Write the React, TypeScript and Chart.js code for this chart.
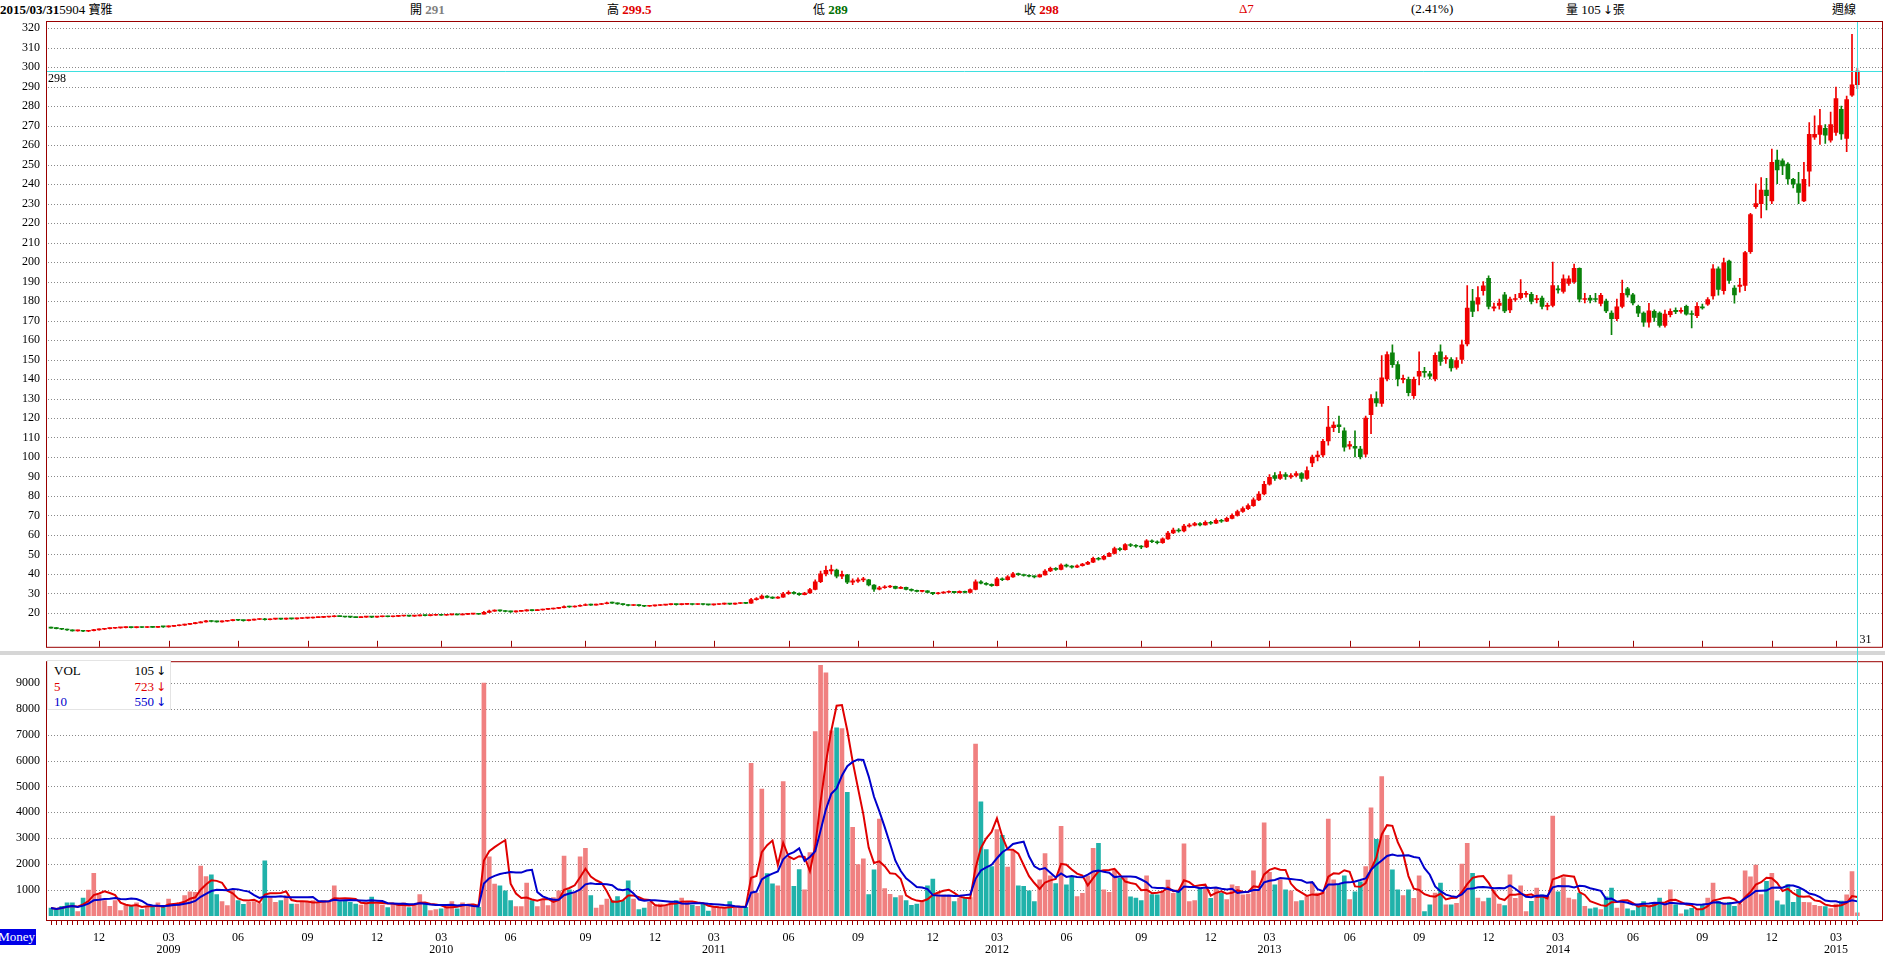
import React, { useEffect, useRef } from 'react';
import { Chart, registerables } from 'chart.js';

Chart.register(...registerables);

// ---------------- data (weekly, 2008/09/29 .. 2015/03/31) ----------------
const OPEN = [
  12.5, 12.2, 11.9, 11.6, 11.2, 10.8, 11.0, 10.6, 10.9, 11.3,
  11.6, 11.9, 12.1, 12.3, 12.4, 12.6, 12.4, 12.7, 12.5, 12.8,
  12.6, 12.9, 12.8, 13.1, 13.4, 13.7, 14.1, 14.5, 14.9, 15.4,
  15.9, 15.6, 15.4, 15.7, 16.0, 16.4, 16.2, 16.0, 16.3, 16.6,
  16.9, 16.5, 16.8, 17.0, 16.8, 17.1, 16.9, 17.1, 17.3, 17.4,
  17.6, 17.7, 17.9, 18.0, 18.3, 18.1, 17.9, 17.8, 17.6, 17.8,
  18.0, 17.8, 18.0, 18.2, 18.0, 18.2, 18.4, 18.5, 18.3, 18.5,
  18.8, 18.6, 18.8, 19.0, 18.8, 19.0, 19.2, 19.0, 19.2, 19.4,
  19.5, 19.4, 20.3, 20.9, 21.3, 21.0, 20.7, 20.5, 20.8, 21.0,
  21.4, 21.2, 21.5, 21.8, 22.0, 22.3, 22.7, 23.3, 23.0, 23.4,
  23.8, 24.3, 24.0, 24.3, 24.7, 25.2, 25.0, 24.6, 24.2, 23.8,
  24.0, 23.7, 23.4, 23.6, 23.8, 24.0, 24.2, 24.4, 24.2, 24.4,
  24.6, 24.3, 24.5, 24.3, 24.1, 24.3, 24.5, 24.8, 24.5, 24.8,
  25.1, 25.0, 26.8, 27.4, 28.6, 28.0, 27.6, 28.1, 29.8, 30.6,
  30.0, 29.4, 30.2, 32.0, 36.0, 40.0, 41.5, 42.0, 38.8, 39.5,
  35.8, 36.3, 36.9, 37.0, 34.3, 32.2, 32.9, 33.3, 33.6, 32.6,
  33.1, 32.1, 31.5, 31.0, 31.3, 30.5, 29.8, 30.2, 30.6, 31.0,
  30.4, 31.0, 30.5, 32.0, 36.0, 35.2, 34.6, 34.0, 37.5, 37.0,
  38.5, 40.0, 39.6, 39.2, 38.8, 38.5, 39.5, 41.5, 42.8, 42.3,
  44.5, 44.0, 43.5, 44.2, 45.0, 46.0, 48.0, 47.5, 49.0, 50.5,
  53.0, 52.5, 55.0, 54.6, 54.2, 53.8, 57.0, 56.5, 56.0, 58.0,
  61.0, 62.5, 62.0, 64.5, 65.0, 65.8, 65.2, 66.5, 66.0, 67.5,
  67.0, 68.5, 70.0, 72.0, 73.5, 75.0, 78.0, 81.0, 86.0, 90.5,
  89.0, 91.0, 89.8, 90.5, 91.5, 89.0, 97, 100, 101, 108.2,
  115, 116.5, 113.4, 105.5, 105.5, 104, 101.4, 121.7, 130, 127.5,
  140, 153.4, 147.4, 139.8, 139.8, 131.4, 141.5, 144, 142.6, 140,
  154, 150.3, 150, 146, 150, 158, 180, 178.4, 185.3, 191.7,
  176.4, 177.8, 183.2, 175.5, 180.8, 181.8, 183.4, 183.5, 180.7, 181.5,
  177.3, 177.7, 186.3, 185, 189, 190, 196.8, 180.8, 181.5, 181.3,
  178.8, 180, 173.8, 171, 177.2, 186.3, 183.2, 177.3, 173.8, 169.2,
  174.7, 173.8, 167.5, 173, 175.2, 174.7, 177.3, 173.6, 172.5, 177,
  178.4, 182.6, 196.6, 185.3, 200.5, 186.6, 187.5, 188, 205.3, 228.4,
  230, 237, 231.4, 252.4, 252, 250.3, 242.5, 240.1, 231.4, 246.7,
  264.1, 265.5, 268.6, 262.6, 266.5, 278.4, 263.4, 285.6, 291,
];

const HIGH = [
  12.7, 12.4, 12.0, 11.7, 11.3, 11.2, 11.1, 11.1, 11.5, 11.8,
  12.0, 12.3, 12.5, 12.6, 12.8, 12.7, 12.9, 12.8, 13.0, 12.9,
  13.1, 13.0, 13.3, 13.6, 13.9, 14.3, 14.7, 15.1, 15.6, 16.2,
  16.1, 15.8, 15.9, 16.2, 16.6, 16.5, 16.3, 16.5, 16.8, 17.1,
  17.2, 17.0, 17.2, 17.1, 17.3, 17.2, 17.3, 17.5, 17.6, 17.8,
  17.9, 18.1, 18.2, 18.6, 18.4, 18.2, 18.0, 17.9, 18.0, 18.2,
  18.1, 18.2, 18.4, 18.3, 18.4, 18.6, 18.7, 18.6, 18.7, 19.0,
  18.9, 19.0, 19.2, 19.1, 19.2, 19.4, 19.3, 19.4, 19.6, 19.7,
  19.6, 20.8, 21.4, 21.6, 21.5, 21.2, 20.9, 21.0, 21.2, 21.7,
  21.6, 21.7, 22.0, 22.2, 22.5, 22.9, 23.6, 23.5, 23.6, 24.1,
  24.6, 24.5, 24.5, 24.9, 25.5, 25.6, 25.1, 24.7, 24.3, 24.2,
  24.1, 23.8, 23.8, 24.0, 24.2, 24.4, 24.6, 24.5, 24.6, 24.8,
  24.7, 24.7, 24.6, 24.4, 24.5, 24.7, 25.0, 24.9, 25.0, 25.3,
  25.2, 27.5, 27.9, 29.3, 28.9, 28.2, 28.4, 30.5, 31.3, 30.9,
  30.3, 30.6, 32.6, 37.0, 41.5, 44.0, 44.5, 42.5, 41.5, 39.8,
  37.5, 38.0, 38.2, 37.2, 34.5, 33.6, 34.0, 34.2, 33.8, 33.5,
  33.2, 32.3, 31.7, 31.6, 31.4, 30.6, 30.5, 30.9, 31.3, 31.1,
  31.3, 31.2, 32.4, 37.0, 36.6, 35.5, 34.9, 38.2, 38.0, 39.2,
  40.8, 40.4, 39.9, 39.5, 39.0, 39.9, 42.2, 43.5, 43.2, 45.2,
  45.0, 44.3, 44.6, 45.4, 46.5, 48.6, 48.5, 49.5, 51.0, 53.8,
  53.5, 55.6, 55.5, 55.0, 54.6, 57.6, 57.5, 57.0, 58.5, 61.8,
  63.5, 63.2, 65.5, 65.8, 66.5, 66.3, 67.2, 67.0, 68.2, 68.0,
  69.2, 70.8, 72.8, 74.4, 76.0, 79.0, 82.2, 87.5, 91.0, 92.0,
  92.5, 92.0, 91.5, 92.5, 92.0, 95.0, 101, 103, 109, 126,
  118, 121, 115, 108, 113.4, 105.5, 121, 132, 133.4, 152,
  154, 157.6, 149, 142, 141, 141, 154, 146, 144, 153.4,
  157.6, 152, 151, 151, 160, 188, 186, 187.4, 190, 193,
  179, 181, 184.5, 182, 183.5, 191, 185, 184.5, 183, 182.5,
  179, 200, 188, 193.5, 193, 199, 197, 184, 183, 184,
  184, 181, 175, 181, 190.8, 187, 184, 178, 174.5, 178.8,
  175.5, 174.5, 175.4, 176, 176.5, 176.5, 178, 175, 179.2, 178.4,
  181.8, 198.7, 197.5, 202, 201, 188, 191.6, 205.5, 225, 240.2,
  243.3, 243, 258, 257.5, 253, 251, 243, 246, 251.2, 271.6,
  275, 278.4, 270.6, 277, 289.8, 280, 285.2, 316.8, 299.5,
];

const LOW = [
  12.1, 11.8, 11.4, 11.0, 10.6, 10.6, 10.4, 10.4, 10.8, 11.1,
  11.4, 11.8, 12.0, 12.1, 12.3, 12.3, 12.3, 12.4, 12.4, 12.5,
  12.5, 12.6, 12.7, 13.0, 13.3, 13.6, 14.0, 14.4, 14.8, 15.3,
  15.4, 15.2, 15.3, 15.6, 15.9, 16.0, 15.8, 15.9, 16.2, 16.5,
  16.3, 16.4, 16.7, 16.6, 16.7, 16.8, 16.8, 17.0, 17.2, 17.3,
  17.5, 17.6, 17.8, 17.9, 18.0, 17.8, 17.6, 17.5, 17.5, 17.7,
  17.6, 17.7, 17.9, 17.9, 17.9, 18.1, 18.3, 18.2, 18.2, 18.4,
  18.5, 18.5, 18.7, 18.7, 18.7, 18.9, 18.9, 18.9, 19.1, 19.3,
  19.2, 19.3, 20.1, 20.7, 20.8, 20.5, 20.3, 20.4, 20.7, 20.9,
  21.0, 21.1, 21.4, 21.7, 21.9, 22.2, 22.6, 22.8, 22.9, 23.3,
  23.7, 23.8, 23.9, 24.2, 24.6, 24.8, 24.4, 24.0, 23.6, 23.7,
  23.5, 23.2, 23.3, 23.5, 23.7, 23.9, 24.1, 24.0, 24.1, 24.3,
  24.1, 24.2, 24.1, 23.9, 24.0, 24.2, 24.4, 24.3, 24.4, 24.7,
  24.7, 24.9, 26.5, 27.2, 27.7, 27.3, 27.4, 27.9, 29.5, 29.6,
  29.0, 29.2, 30.0, 31.8, 35.5, 39.0, 40.0, 38.0, 37.5, 35.0,
  34.5, 35.6, 36.0, 33.8, 31.0, 31.8, 32.5, 33.0, 32.3, 32.4,
  31.8, 31.2, 30.7, 30.8, 30.2, 29.3, 29.6, 30.0, 30.4, 30.1,
  30.2, 30.2, 30.3, 31.8, 34.8, 34.2, 33.6, 33.8, 36.5, 36.8,
  38.2, 39.2, 38.8, 38.4, 38.0, 38.3, 39.3, 41.2, 41.8, 42.0,
  43.5, 43.0, 43.2, 44.0, 44.8, 45.8, 47.0, 47.2, 48.8, 50.2,
  51.8, 52.2, 54.0, 53.6, 53.0, 53.5, 56.0, 55.4, 55.7, 57.7,
  60.6, 61.4, 61.6, 64.0, 64.6, 64.6, 65.0, 65.4, 65.8, 66.4,
  66.8, 68.2, 69.6, 71.6, 73.0, 74.6, 77.6, 80.5, 85.5, 88.0,
  88.5, 88.5, 89.0, 89.8, 87.5, 88.5, 95, 98, 100, 106,
  113, 112.5, 103, 104, 100, 99, 100, 112, 126, 126,
  139, 146, 136.4, 138, 131.3, 130, 137, 141, 140, 139,
  147, 148, 144, 145, 148, 157, 172, 175, 183, 176,
  175, 175.8, 174, 174, 179.8, 181, 182, 178.5, 179, 176,
  175.5, 177, 184, 184, 188, 189, 179.5, 179, 179, 179.5,
  177.5, 174, 162.8, 170, 176.5, 182, 178, 172, 167, 166.6,
  169.6, 166.6, 166.6, 171.8, 173.5, 173.8, 172.8, 166.2, 171.5, 175.8,
  177.7, 181, 183, 183.5, 189, 178.9, 184.5, 185.3, 204.5, 227.5,
  222.6, 226.8, 230, 240.2, 244.8, 240, 238, 230, 231, 239,
  263, 260.4, 260.9, 261.5, 265, 263, 256.6, 285, 289,
];

const CLOSE = [
  12.2, 11.9, 11.6, 11.2, 10.8, 11.0, 10.6, 10.9, 11.3, 11.6,
  11.9, 12.1, 12.3, 12.4, 12.6, 12.4, 12.7, 12.5, 12.8, 12.6,
  12.9, 12.8, 13.1, 13.4, 13.7, 14.1, 14.5, 14.9, 15.4, 15.9,
  15.6, 15.4, 15.7, 16.0, 16.4, 16.2, 16.0, 16.3, 16.6, 16.9,
  16.5, 16.8, 17.0, 16.8, 17.1, 16.9, 17.1, 17.3, 17.4, 17.6,
  17.7, 17.9, 18.0, 18.3, 18.1, 17.9, 17.8, 17.6, 17.8, 18.0,
  17.8, 18.0, 18.2, 18.0, 18.2, 18.4, 18.5, 18.3, 18.5, 18.8,
  18.6, 18.8, 19.0, 18.8, 19.0, 19.2, 19.0, 19.2, 19.4, 19.5,
  19.3, 20.3, 20.9, 21.3, 21.0, 20.7, 20.5, 20.8, 21.0, 21.4,
  21.2, 21.5, 21.8, 22.0, 22.3, 22.7, 23.3, 23.0, 23.4, 23.8,
  24.3, 24.0, 24.3, 24.7, 25.2, 25.0, 24.6, 24.2, 23.8, 24.0,
  23.7, 23.4, 23.6, 23.8, 24.0, 24.2, 24.4, 24.2, 24.4, 24.6,
  24.3, 24.5, 24.3, 24.1, 24.3, 24.5, 24.8, 24.5, 24.8, 25.1,
  24.9, 26.8, 27.4, 28.6, 28.0, 27.6, 28.1, 29.8, 30.6, 30.0,
  29.4, 30.2, 32.0, 36.0, 40.0, 41.8, 42.2, 38.8, 39.8, 35.8,
  36.4, 36.9, 37.3, 34.3, 32.2, 32.9, 33.3, 33.6, 32.6, 33.1,
  32.1, 31.5, 31.0, 31.3, 30.5, 29.8, 30.2, 30.6, 31.0, 30.4,
  31.0, 30.5, 32.0, 36.0, 35.2, 34.6, 34.0, 37.5, 37.0, 38.5,
  40.0, 39.6, 39.2, 38.8, 38.5, 39.5, 41.5, 42.8, 42.3, 44.5,
  44.0, 43.5, 44.2, 45.0, 46.0, 48.0, 47.5, 49.0, 50.5, 53.0,
  52.5, 55.0, 54.6, 54.2, 53.8, 57.0, 56.5, 56.0, 58.0, 61.0,
  62.5, 62.0, 64.5, 65.0, 65.8, 65.2, 66.5, 66.0, 67.5, 67.0,
  68.5, 70.0, 72.0, 73.5, 75.0, 78.0, 81.0, 86.0, 89.5, 89.0,
  91.0, 90.0, 90.5, 91.5, 89.0, 93.0, 100, 101, 108, 115.4,
  116.4, 115.5, 105, 106.3, 104.5, 100.2, 120, 130, 127.7, 140.6,
  152.5, 147.4, 140, 140.4, 133, 139.8, 144, 143.4, 141.5, 152.2,
  149, 151, 145.7, 149.5, 157.6, 176.4, 174.7, 181.8, 187.8, 177.2,
  177, 179, 175, 181, 181.3, 184, 184, 179.8, 181.2, 177.2,
  177.8, 188, 185.7, 191.4, 191.4, 196.8, 181, 181.3, 180.5, 180.8,
  183, 175, 171, 177, 184, 183.2, 179, 173.8, 169.2, 175,
  171.6, 167.5, 173.3, 174.7, 174.6, 175.2, 173.3, 173.1, 177.3, 176.5,
  180.7, 196.6, 186, 199.6, 190.6, 183.2, 188.2, 204.9, 224.4, 230,
  237, 234.1, 251.2, 247.3, 249.3, 242.7, 240.1, 235.7, 242.5, 265.5,
  265.5, 270, 265.1, 270.6, 283.9, 265.7, 283.4, 291, 298,
];

const VOLUME = [
  295, 220, 360, 490, 490, 155, 680, 990, 1640, 800,
  580, 360, 580, 190, 385, 385, 490, 230, 320, 360,
  490, 320, 640, 450, 490, 770, 920, 900, 1920, 1510,
  1580, 810, 540, 385, 1000, 580, 440, 510, 540, 460,
  2120, 700, 510, 580, 770, 450, 450, 510, 540, 580,
  510, 580, 550, 1150, 540, 550, 510, 450, 410, 450,
  720, 450, 410, 310, 450, 410, 490, 310, 450, 810,
  490, 190, 230, 260, 410, 540, 260, 490, 410, 450,
  320, 9000, 2270, 1220, 1150, 960, 580, 350, 350, 1260,
  580, 350, 640, 385, 700, 960, 2300, 1000, 900, 2270,
  2600, 770, 295, 410, 640, 580, 740, 580, 1350, 640,
  230, 295, 510, 360, 450, 410, 540, 580, 680, 510,
  410, 360, 450, 170, 320, 295, 295, 540, 280, 295,
  320, 5900, 870, 4900, 1630, 1230, 1150, 5190, 2240, 1130,
  1780, 1000, 2440, 7120, 9690, 9400, 7150, 7270, 7240, 4770,
  3420, 1970, 2200, 810, 1770, 3740, 1050, 820, 700, 770,
  580, 400, 450, 580, 1150, 1410, 870, 800, 770, 540,
  680, 670, 700, 6640, 4400, 2560, 1900, 3330, 3110, 1880,
  2520, 1150, 1130, 960, 540, 1380, 2400, 1540, 1240, 3460,
  1190, 1500, 740, 860, 1540, 2600, 2800, 1000, 900, 1770,
  1440, 1470, 730, 680, 580, 1540, 810, 800, 900, 1370,
  860, 920, 2780, 540, 580, 1060, 1030, 670, 1060, 870,
  620, 1190, 1130, 800, 830, 1730, 1030, 3590, 1670, 1190,
  1380, 1000, 960, 540, 580, 740, 1280, 870, 920, 3740,
  1380, 1190, 1540, 620, 920, 1310, 1900, 4170, 2950, 5380,
  3110, 1770, 1000, 770, 1000, 670, 1540, 155, 420, 870,
  1260, 420, 420, 470, 1990, 2800, 1640, 680, 540, 680,
  960, 450, 385, 1580, 670, 1150, 155, 550, 1060, 800,
  740, 3850, 920, 1470, 680, 620, 870, 360, 260, 300,
  230, 730, 1060, 295, 600, 260, 190, 385, 540, 385,
  490, 680, 450, 1000, 420, 65, 220, 280, 230, 420,
  680, 1260, 550, 490, 510, 360, 450, 1730, 1500, 1960,
  810, 1330, 1640, 570, 420, 1200, 510, 1020, 510, 500,
  400, 360, 350, 275, 450, 560, 800, 1700, 105,
];

const PRICE_TICKS = [20, 30, 40, 50, 60, 70, 80, 90, 100, 110, 120, 130, 140, 150, 160, 170, 180, 190, 200, 210, 220, 230, 240, 250, 260, 270, 280, 290, 300, 310, 320];
const VOLUME_TICKS = [1000, 2000, 3000, 4000, 5000, 6000, 7000, 8000, 9000];
const MONTH_WEEKS = [9, 22, 35, 48, 61, 73, 86, 100, 113, 124, 138, 151, 165, 177, 190, 204, 217, 228, 243, 256, 269, 282, 296, 309, 322, 334];
const MONTH_LABELS = ['12', '03', '06', '09', '12', '03', '06', '09', '12', '03', '06', '09', '12', '03', '06', '09', '12', '03', '06', '09', '12', '03', '06', '09', '12', '03'];
const YEAR_LABELS = ['', '2009', '', '', '', '2010', '', '', '', '2011', '', '', '', '2012', '', '', '', '2013', '', '', '', '2014', '', '', '', '2015'];

const LAST_CLOSE = 298;
const LAST_DAY_LABEL = '31';
const MA5_LAST = 723;
const MA10_LAST = 550;
const VOL_LAST = 105;

// ---------------- style ----------------
const FONT = "'Liberation Serif', 'Noto Sans CJK TC', serif";
const CJK = "'Noto Sans CJK TC', 'Liberation Serif', sans-serif";
const ARROW = "'DejaVu Sans', sans-serif";
const FRAME = '#990000';
const CYAN = '#3fe0e0';
const GRID = '#8a8a8a';
const UP = '#f00000';
const DOWN = '#0a820a';
const VOL_UP = '#f08080';
const VOL_DOWN = '#20b2aa';
const MA5_COLOR = '#e00000';
const MA10_COLOR = '#0000cc';
const X_MIN = -0.94;
const X_MAX = 342.8;

Chart.defaults.font.family = FONT;
Chart.defaults.font.size = 12;
Chart.defaults.color = '#000';

const WEEKS = CLOSE.map((_, i) => i);
const LAST_WEEK = WEEKS.length - 1;
const isUp = (i: number) => CLOSE[i] >= OPEN[i];

function movingAverage(values: number[], n: number) {
  return values.map((_, i) => {
    const w = values.slice(Math.max(0, i - n + 1), i + 1);
    return w.reduce((a, b) => a + b, 0) / w.length;
  });
}

function strokeLine(ctx: CanvasRenderingContext2D, x1: number, y1: number, x2: number, y2: number) {
  ctx.beginPath();
  ctx.moveTo(x1, y1);
  ctx.lineTo(x2, y2);
  ctx.stroke();
}

function drawDotted(chart: any, ticks: number[]) {
  const { ctx, chartArea: a, scales } = chart;
  ctx.save();
  ctx.strokeStyle = GRID;
  ctx.lineWidth = 1;
  ctx.setLineDash([1, 2]);
  ticks.forEach((v) => {
    const y = Math.round(scales.y.getPixelForValue(v)) + 0.5;
    strokeLine(ctx, a.left + 2, y, a.right, y);
  });
  ctx.restore();
}

const pricePanel = {
  id: 'pricePanel',
  beforeDatasetsDraw(chart: any) {
    drawDotted(chart, PRICE_TICKS);
  },
  afterDatasetsDraw(chart: any) {
    const { ctx, chartArea: a, scales } = chart;
    ctx.save();
    ctx.lineWidth = 1;
    ctx.strokeStyle = CYAN;
    const yc = Math.round(scales.y.getPixelForValue(LAST_CLOSE)) + 0.5;
    strokeLine(ctx, a.left, yc, a.right, yc);
    const xc = Math.round(scales.x.getPixelForValue(LAST_WEEK)) + 0.5;
    strokeLine(ctx, xc, a.top, xc, a.bottom);
    ctx.strokeStyle = FRAME;
    ctx.strokeRect(a.left + 0.5, a.top + 0.5, a.right - a.left - 1, a.bottom - a.top);
    MONTH_WEEKS.forEach((w) => {
      const x = Math.round(scales.x.getPixelForValue(w)) + 0.5;
      strokeLine(ctx, x, a.bottom - 6, x, a.bottom);
    });
    ctx.fillStyle = '#000';
    ctx.font = `12px ${FONT}`;
    ctx.textAlign = 'left';
    ctx.textBaseline = 'top';
    ctx.fillText(String(LAST_CLOSE), a.left + 2, yc + 1);
    ctx.textBaseline = 'middle';
    ctx.fillText(LAST_DAY_LABEL, xc + 2, a.bottom - 7);
    ctx.restore();
  },
};

const volumePanel = {
  id: 'volumePanel',
  beforeDraw(chart: any) {
    const { ctx, width } = chart;
    ctx.save();
    ctx.fillStyle = '#d6d6d6';
    ctx.fillRect(0, 3, width, 4);
    ctx.restore();
  },
  beforeDatasetsDraw(chart: any) {
    drawDotted(chart, VOLUME_TICKS);
  },
  afterDatasetsDraw(chart: any) {
    const { ctx, chartArea: a, scales } = chart;
    ctx.save();
    ctx.lineWidth = 1;
    ctx.strokeStyle = FRAME;
    ctx.strokeRect(a.left + 0.5, a.top + 0.5, a.right - a.left - 1, a.bottom - a.top - 1);
    ctx.strokeStyle = CYAN;
    const xc = Math.round(scales.x.getPixelForValue(LAST_WEEK)) + 0.5;
    strokeLine(ctx, xc, 0, xc, a.bottom);
    ctx.restore();
  },
};

function monthTickLabel(value: number) {
  const k = MONTH_WEEKS.indexOf(Math.round(value));
  if (k < 0) return '';
  return YEAR_LABELS[k] ? [MONTH_LABELS[k], YEAR_LABELS[k]] : MONTH_LABELS[k];
}

export default function App() {
  const priceRef = useRef<HTMLCanvasElement>(null);
  const volRef = useRef<HTMLCanvasElement>(null);

  useEffect(() => {
    const candleColors = WEEKS.map((i) => (isUp(i) ? UP : DOWN));
    const price = new Chart(priceRef.current as HTMLCanvasElement, {
      type: 'bar',
      data: {
        datasets: [
          {
            label: 'wick',
            data: WEEKS.map((i) => ({ x: i, y: [LOW[i], HIGH[i]] })) as any,
            backgroundColor: candleColors,
            barThickness: 1,
            grouped: false,
            borderWidth: 0,
            order: 2,
          } as any,
          {
            label: 'body',
            data: WEEKS.map((i) => ({ x: i, y: [Math.min(OPEN[i], CLOSE[i]), Math.max(OPEN[i], CLOSE[i])] })) as any,
            backgroundColor: candleColors,
            barThickness: 4,
            minBarLength: 1,
            grouped: false,
            borderWidth: 0,
            order: 1,
          } as any,
        ],
      },
      options: {
        responsive: false,
        animation: false,
        devicePixelRatio: 1,
        events: [],
        layout: { padding: { top: 21, right: 2, bottom: 11, left: 0 } },
        plugins: { legend: { display: false }, tooltip: { enabled: false } },
        scales: {
          x: { type: 'linear', min: X_MIN, max: X_MAX, display: false, offset: false, grid: { offset: false } },
          y: {
            type: 'linear',
            min: 2.6,
            max: 323.7,
            grid: { display: false, drawTicks: false },
            border: { display: false },
            ticks: { padding: 6, color: '#000', font: { size: 12, family: FONT }, callback: (v: any) => String(v) },
            afterBuildTicks: (s: any) => {
              s.ticks = PRICE_TICKS.map((v) => ({ value: v }));
            },
            afterFit: (s: any) => {
              s.width = 46;
            },
          },
        },
      } as any,
      plugins: [pricePanel],
    });

    const ma5 = movingAverage(VOLUME, 5);
    const ma10 = movingAverage(VOLUME, 10);
    const volume = new Chart(volRef.current as HTMLCanvasElement, {
      type: 'bar',
      data: {
        datasets: [
          {
            type: 'line',
            label: 'MA10',
            data: WEEKS.map((i) => ({ x: i, y: ma10[i] })),
            borderColor: MA10_COLOR,
            borderWidth: 2,
            pointRadius: 0,
            tension: 0,
            order: 0,
          } as any,
          {
            type: 'line',
            label: 'MA5',
            data: WEEKS.map((i) => ({ x: i, y: ma5[i] })),
            borderColor: MA5_COLOR,
            borderWidth: 2,
            pointRadius: 0,
            tension: 0,
            order: 1,
          } as any,
          {
            label: 'VOL',
            data: WEEKS.map((i) => ({ x: i, y: VOLUME[i] })) as any,
            backgroundColor: WEEKS.map((i) => (isUp(i) ? VOL_UP : VOL_DOWN)),
            barThickness: 4,
            grouped: false,
            borderWidth: 0,
            order: 2,
          } as any,
        ],
      },
      options: {
        responsive: false,
        animation: false,
        devicePixelRatio: 1,
        events: [],
        layout: { padding: { top: 9, right: 2, bottom: 0, left: 0 } },
        plugins: { legend: { display: false }, tooltip: { enabled: false } },
        scales: {
          x: {
            type: 'linear',
            min: X_MIN,
            max: X_MAX,
            offset: false,
            grid: { display: true, offset: false, drawOnChartArea: false, drawTicks: true, tickLength: 4, tickColor: FRAME, color: FRAME },
            border: { display: false },
            ticks: {
              autoSkip: false,
              maxRotation: 0,
              minRotation: 0,
              padding: 7,
              color: '#000',
              font: { size: 12, family: FONT, lineHeight: 1 },
              callback: (v: any) => monthTickLabel(Number(v)),
            },
            afterBuildTicks: (s: any) => {
              s.ticks = WEEKS.map((v) => ({ value: v }));
            },
            afterFit: (s: any) => {
              s.height = 35;
            },
          },
          y: {
            type: 'linear',
            min: -210,
            max: 9850,
            grid: { display: false, drawTicks: false },
            border: { display: false },
            ticks: { padding: 6, color: '#000', font: { size: 12, family: FONT }, callback: (v: any) => String(v) },
            afterBuildTicks: (s: any) => {
              s.ticks = VOLUME_TICKS.map((v) => ({ value: v }));
            },
            afterFit: (s: any) => {
              s.width = 46;
            },
          },
        },
      } as any,
      plugins: [volumePanel],
    });

    return () => {
      price.destroy();
      volume.destroy();
    };
  }, []);

  const head: React.CSSProperties = { position: 'absolute', top: 1, fontFamily: FONT, fontSize: 13, lineHeight: '16px', whiteSpace: 'nowrap' };
  const cjk: React.CSSProperties = { fontFamily: CJK, fontSize: 12 };
  const b: React.CSSProperties = { fontWeight: 'bold' };
  const arrow: React.CSSProperties = { fontFamily: ARROW, fontSize: 12, marginLeft: 2 };

  return (
    <div style={{ position: 'fixed', left: 0, top: 0, width: 1885, height: 956, background: '#fff', overflow: 'hidden' }}>
      <div style={{ ...head, left: 0 }}>
        <span style={b}>2015/03/31</span>5904 <span style={cjk}>寶雅</span>
      </div>
      <div style={{ ...head, left: 410 }}>
        <span style={cjk}>開</span> <span style={{ ...b, color: '#808080' }}>291</span>
      </div>
      <div style={{ ...head, left: 607 }}>
        <span style={cjk}>高</span> <span style={{ ...b, color: '#e00000' }}>299.5</span>
      </div>
      <div style={{ ...head, left: 813 }}>
        <span style={cjk}>低</span> <span style={{ ...b, color: '#007000' }}>289</span>
      </div>
      <div style={{ ...head, left: 1024 }}>
        <span style={cjk}>收</span> <span style={{ ...b, color: '#e00000' }}>298</span>
      </div>
      <div style={{ ...head, left: 1239, color: '#e00000' }}>Δ7</div>
      <div style={{ ...head, left: 1411 }}>(2.41%)</div>
      <div style={{ ...head, left: 1566 }}>
        <span style={cjk}>量</span> 105<span style={arrow}>↓</span><span style={cjk}>張</span>
      </div>
      <div style={{ ...head, left: 1832 }}>
        <span style={cjk}>週線</span>
      </div>

      <canvas ref={priceRef} width={1885} height={660} style={{ position: 'absolute', left: 0, top: 0, width: 1885, height: 660 }} />
      <canvas ref={volRef} width={1885} height={308} style={{ position: 'absolute', left: 0, top: 648, width: 1885, height: 308 }} />

      <div
        style={{
          position: 'absolute', left: 47, top: 660, width: 122, height: 48, background: '#fff',
          border: '1px solid #e4e4e4', fontFamily: FONT, fontSize: 13, lineHeight: '15px',
        }}
      >
        <div style={{ position: 'absolute', left: 6, top: 2 }}>VOL</div>
        <div style={{ position: 'absolute', right: 4, top: 2 }}>{VOL_LAST}<span style={arrow}>↓</span></div>
        <div style={{ position: 'absolute', left: 6, top: 18, color: '#e00000' }}>5</div>
        <div style={{ position: 'absolute', right: 4, top: 18, color: '#e00000' }}>{MA5_LAST}<span style={arrow}>↓</span></div>
        <div style={{ position: 'absolute', left: 6, top: 33, color: '#0000cc' }}>10</div>
        <div style={{ position: 'absolute', right: 4, top: 33, color: '#0000cc' }}>{MA10_LAST}<span style={arrow}>↓</span></div>
      </div>

      <div
        style={{
          position: 'absolute', left: 0, top: 929, width: 36, height: 16, background: '#0000e8', overflow: 'hidden',
        }}
      >
        <span
          style={{
            position: 'absolute', right: 1, top: 0, color: '#fff', fontFamily: FONT, fontSize: 13,
            lineHeight: '16px', whiteSpace: 'nowrap',
          }}
        >
          XQMoney
        </span>
      </div>
    </div>
  );
}
